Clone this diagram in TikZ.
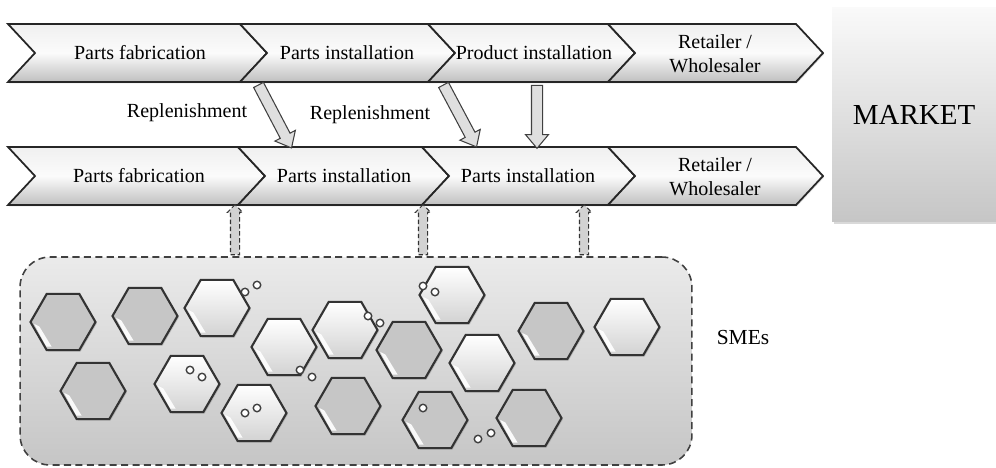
\documentclass[tikz,border=0pt]{standalone}
\usepackage{fontspec}
\setmainfont{Liberation Serif}
\usetikzlibrary{shapes.geometric,shapes.arrows,shadows,calc}

\tikzset{
  txt/.style={font=\fontsize{11.4}{13.5}\selectfont, inner sep=0, align=center},
  chevron/.style={draw=black!85, line width=1pt, top color=gray!12, bottom color=gray!50, middle color=gray!3,
    drop shadow={opacity=.25, shadow xshift=.6pt, shadow yshift=-.8pt}},
  market/.style={minimum width=3.28cm, minimum height=4.3cm, inner sep=0, top color=gray!4, bottom color=gray!45,
    drop shadow={opacity=.3, shadow xshift=1pt, shadow yshift=-1pt}, font=\fontsize{16.5}{19}\selectfont},
  smebox/.style={minimum width=13.44cm, minimum height=4.16cm, rounded corners=0.6cm, dashed,
    dash pattern=on 4pt off 2.5pt, draw=black!75, line width=0.9pt, top color=gray!16, bottom color=gray!45},
  hex/.style={regular polygon, regular polygon sides=6, minimum size=1.3cm, inner sep=0, draw=black!80, line width=1.2pt,
    drop shadow={opacity=.35, shadow xshift=.8pt, shadow yshift=-.8pt},
    path picture={\fill[white, opacity=.9] ($(path picture bounding box.center)+(-16.5pt,-1pt)$)
      -- ++(7pt,-13pt) -- ++(3pt,0pt) -- ++(-7pt,11.5pt) -- cycle;}},
  hexdark/.style={hex, fill=gray!45},
  hexlight/.style={hex, top color=white, bottom color=gray!35},
  bubble/.style={circle, draw=black!75, line width=0.8pt, fill=white, inner sep=0, minimum size=0.15cm},
  blockarrow/.style={single arrow, inner xsep=0, inner ysep=0.1cm, single arrow head extend=0.12cm,
    single arrow tip angle=80, draw=black!75, line width=0.6pt, fill=gray!25},
  dasharrow/.style={single arrow, inner xsep=0, inner ysep=0.08cm, single arrow head extend=0.06cm,
    single arrow tip angle=90, draw=black!80, line width=0.6pt, dashed, dash pattern=on 2.5pt off 1.5pt, fill=gray!35}
}
\newcommand{\chev}[4]{\path[chevron] (#1,#3) -- (#2,#3) -- ({#2+27},{(#3+#4)/2}) -- (#2,#4) -- (#1,#4)
  -- ({#1+27},{(#3+#4)/2}) -- cycle;}

\begin{document}
\begin{tikzpicture}[x=0.02cm,y=-0.02cm]
  \useasboundingbox (0,0) rectangle (996,467);

  % market
  \node[market] (mk) at (914,114.5) {MARKET};

  % upper chain
  \chev{8}{240}{24}{82}
  \chev{240}{428}{24}{82}
  \chev{428}{608}{24}{82}
  \chev{608}{796}{24}{82}
  \node[txt] (u1) at (140,53) {Parts fabrication};
  \node[txt] (u2) at (347,53) {Parts installation};
  \node[txt] (u3) at (534,53) {Product installation};
  \node[txt] (u4) at (715,54) {Retailer /\\Wholesaler};

  % lower chain
  \chev{8}{238}{147}{205}
  \chev{238}{422}{147}{205}
  \chev{422}{608}{147}{205}
  \chev{608}{796}{147}{205}
  \node[txt] (l1) at (139,176) {Parts fabrication};
  \node[txt] (l2) at (344,176) {Parts installation};
  \node[txt] (l3) at (528,176) {Parts installation};
  \node[txt] (l4) at (715,177) {Retailer /\\Wholesaler};

  % replenishment
  \node[txt] (rp1) at (187,113) {Replenishment};
  \node[txt] (rp2) at (370,115) {Replenishment};
  \coordinate (r1a) at (257,82);  \coordinate (r1b) at (290,145);
  \coordinate (r2a) at (442,82);  \coordinate (r2b) at (475,144);
  \coordinate (r3a) at (537,82);  \coordinate (r3b) at (537,145);
  \foreach \a/\b in {r1a/r1b, r2a/r2b, r3a/r3b}
    \path let \p1=($(\b)-(\a)$) in
      node[blockarrow, minimum height={veclen(\x1,\y1)}, rotate={atan2(\y1,\x1)}] at ($(\a)!.5!(\b)$) {};

  % SMEs
  \node[smebox] (sme) at (356,361) {};
  \foreach \x/\y/\t [count=\i] in {63/322/dark, 145/316/dark, 217/308/light, 284/347/light, 345/330/light,
      409/350/dark, 452/295/light, 93/391/dark, 187/384/light, 254/413/light, 348/406/dark, 435/420/dark,
      482/363/light, 529/418/dark, 551/331/dark, 627/327/light}
    \node[hex\t] (h\i) at (\x,\y) {};
  \foreach \x/\y [count=\i] in {245/292, 257/285, 300/370, 312/377, 368/316, 380/323, 423/286, 435/292,
      190/370, 202/377, 245/413, 257/408, 423/408, 478/439, 491/433}
    \node[bubble] (b\i) at (\x,\y) {};
  \node[txt, font=\fontsize{12.2}{14}\selectfont] (smes) at (743,337) {SMEs};

  % links up to the chain
  \coordinate (d1a) at (235,257);  \coordinate (d1b) at (235,207);
  \coordinate (d2a) at (423,257);  \coordinate (d2b) at (423,207);
  \coordinate (d3a) at (584,257);  \coordinate (d3b) at (584,207);
  \foreach \a/\b in {d1a/d1b, d2a/d2b, d3a/d3b}
    \path let \p1=($(\b)-(\a)$) in
      node[dasharrow, minimum height={veclen(\x1,\y1)}, rotate={atan2(\y1,\x1)}] at ($(\a)!.5!(\b)$) {};
\end{tikzpicture}
\end{document}
